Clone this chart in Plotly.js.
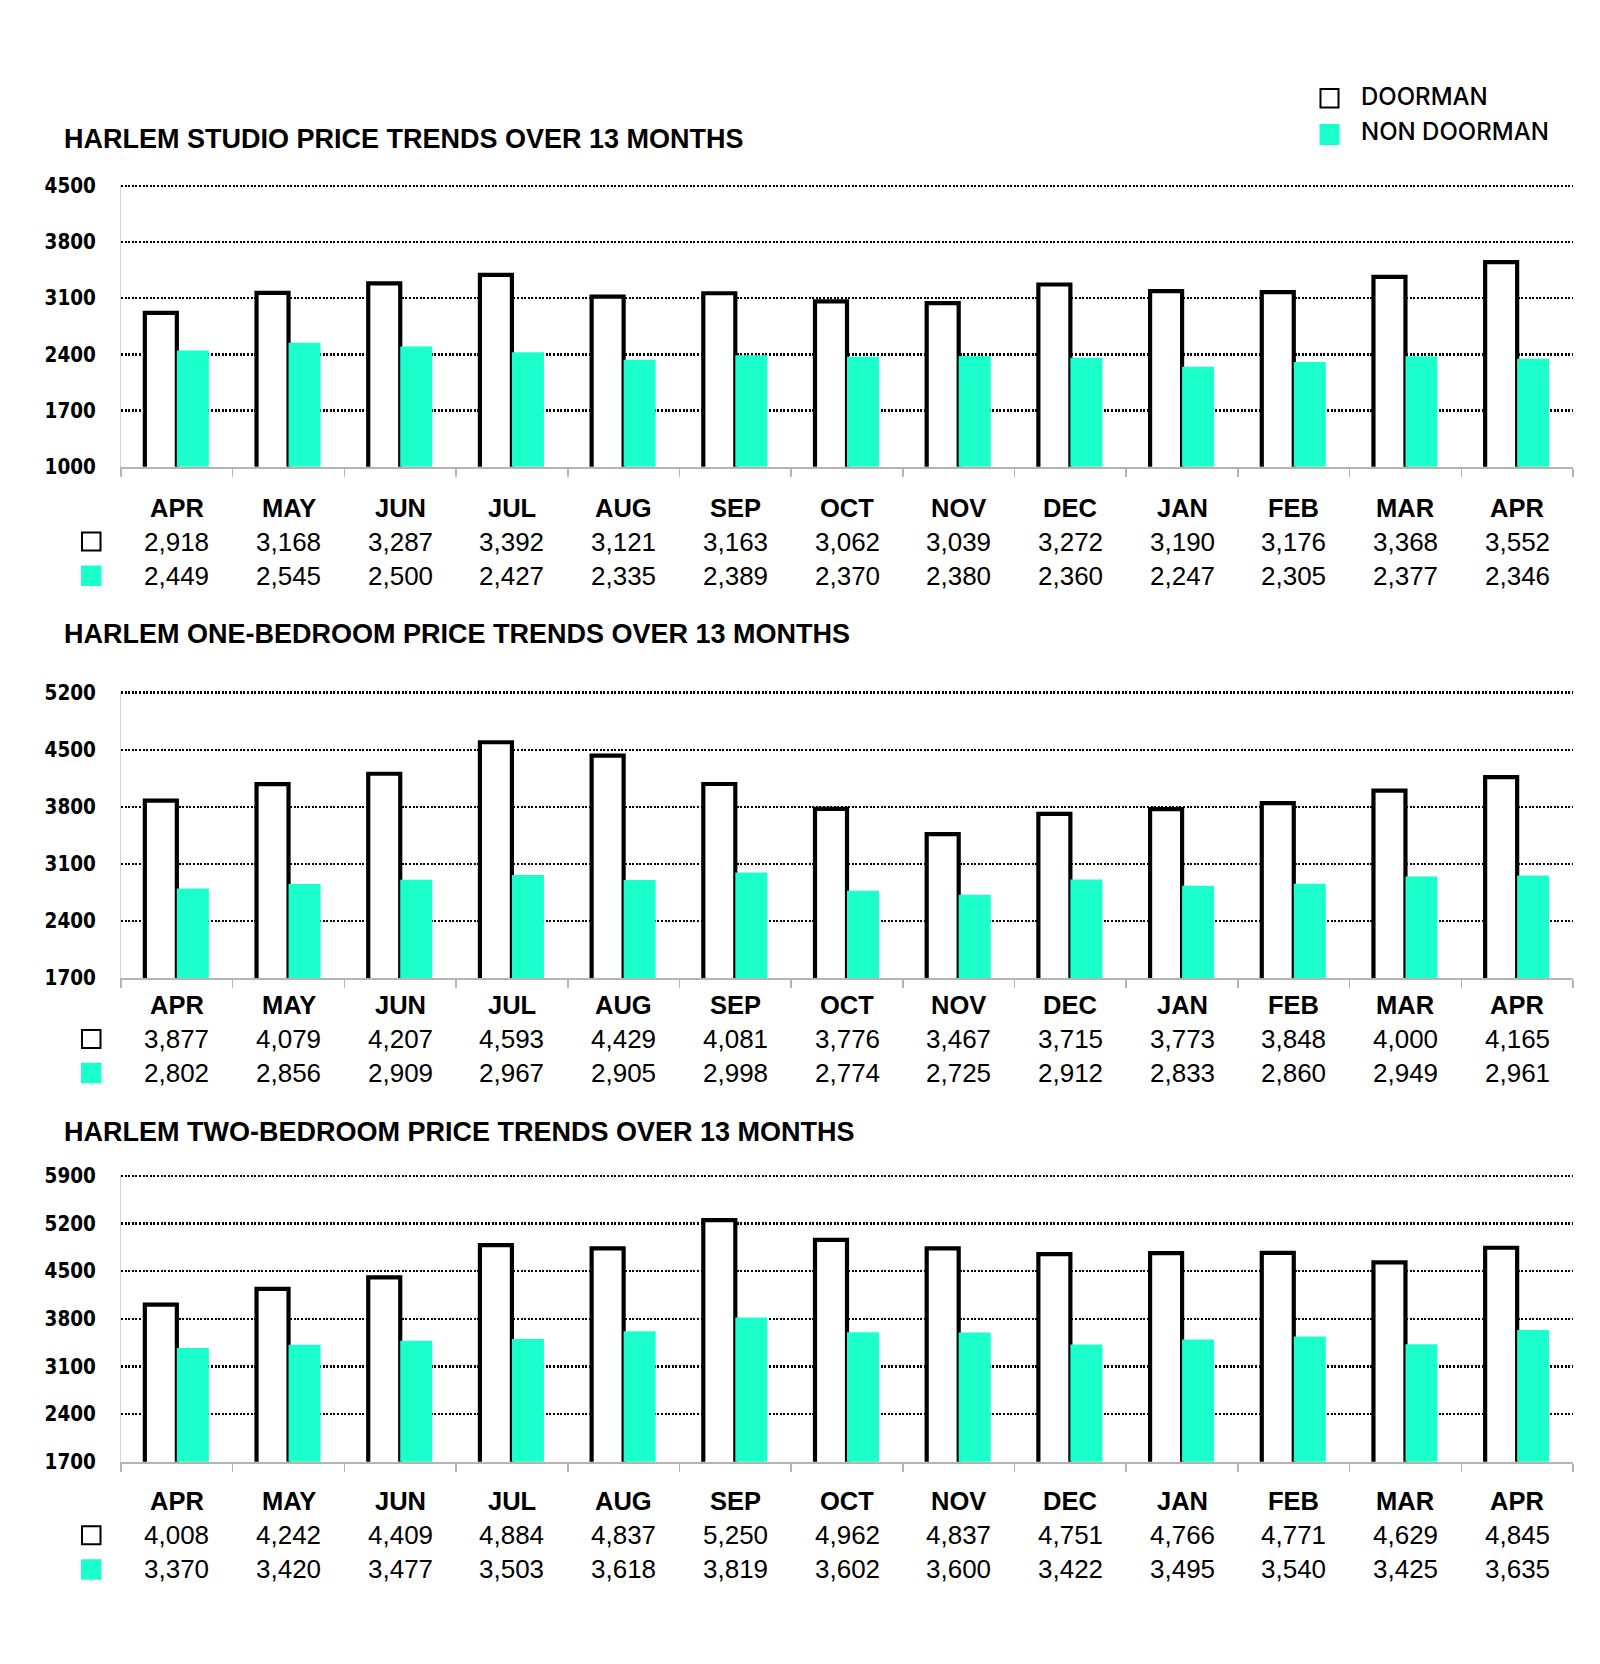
<!DOCTYPE html>
<html>
<head>
<meta charset="utf-8">
<script src="https://cdn.plot.ly/plotly-3.0.1.min.js"></script>
<style>html,body{margin:0;padding:0;background:#fff;}#chart{width:1600px;height:1664px;}</style>
</head>
<body>
<div id="chart"></div>
<script>
// ---------- DATA ----------
const months = ["APR","MAY","JUN","JUL","AUG","SEP","OCT","NOV","DEC","JAN","FEB","MAR","APR"];
const seriesNames = ["DOORMAN", "NON DOORMAN"];

const chartTitles = [
  "HARLEM STUDIO PRICE TRENDS OVER 13 MONTHS",
  "HARLEM ONE-BEDROOM PRICE TRENDS OVER 13 MONTHS",
  "HARLEM TWO-BEDROOM PRICE TRENDS OVER 13 MONTHS"
];

const studioDoorman    = [2918,3168,3287,3392,3121,3163,3062,3039,3272,3190,3176,3368,3552];
const studioNonDoorman = [2449,2545,2500,2427,2335,2389,2370,2380,2360,2247,2305,2377,2346];

const oneBedDoorman    = [3877,4079,4207,4593,4429,4081,3776,3467,3715,3773,3848,4000,4165];
const oneBedNonDoorman = [2802,2856,2909,2967,2905,2998,2774,2725,2912,2833,2860,2949,2961];

const twoBedDoorman    = [4008,4242,4409,4884,4837,5250,4962,4837,4751,4766,4771,4629,4845];
const twoBedNonDoorman = [3370,3420,3477,3503,3618,3819,3602,3600,3422,3495,3540,3425,3635];

const studioTicks = [1000,1700,2400,3100,3800,4500];
const oneBedTicks = [1700,2400,3100,3800,4500,5200];
const twoBedTicks = [1700,2400,3100,3800,4500,5200,5900];

// ---------- LAYOUT HELPERS ----------
const W = 1600, H = 1664;
const px = v => v / W;
const py = v => 1 - v / H;

const TEAL = "#1bffcc";
const FONT_ARIAL = "'Liberation Sans', Arial, Helvetica, sans-serif";

const charts = [
  {doorman: studioDoorman, non: studioNonDoorman, ticks: studioTicks, title: chartTitles[0],
   top: 186, bottom: 466.7, titleY: 139, rows: [508, 541.5, 575.5]},
  {doorman: oneBedDoorman, non: oneBedNonDoorman, ticks: oneBedTicks, title: chartTitles[1],
   top: 692.7, bottom: 978.3, titleY: 634, rows: [1005, 1039, 1072.8]},
  {doorman: twoBedDoorman, non: twoBedNonDoorman, ticks: twoBedTicks, title: chartTitles[2],
   top: 1176, bottom: 1461.7, titleY: 1132, rows: [1501.3, 1535.3, 1569.2]}
];

const plotLeft = 121, plotRight = 1573;
const xIdx = months.map((_, i) => i);
const boundaries = months.map((_, i) => i - 0.5).concat([months.length - 0.5]);

const fmt = v => v.toLocaleString("en-US");

const data = [];
const layout = {
  width: W, height: H,
  margin: {l: 0, r: 0, t: 0, b: 0},
  paper_bgcolor: "#fff", plot_bgcolor: "#fff",
  showlegend: false,
  barmode: "group", bargap: 0.427, bargroupgap: 0,
  annotations: [], shapes: []
};

charts.forEach((c, k) => {
  const sfx = k === 0 ? "" : String(k + 1);
  const xa = "x" + sfx, ya = "y" + sfx;
  const yMin = c.ticks[0], yMax = c.ticks[c.ticks.length - 1];
  const pad = (yMax - yMin) * 0.004;
  const pxPad = (c.bottom - c.top) * 0.004;
  data.push({
    type: "bar", name: seriesNames[0], x: xIdx, y: c.doorman, xaxis: xa, yaxis: ya,
    marker: {color: "#ffffff", line: {color: "#000000", width: 4.2}},
    hovertemplate: "%{y:,}<extra>" + seriesNames[0] + "</extra>"
  });
  data.push({
    type: "bar", name: seriesNames[1], x: xIdx, y: c.non, xaxis: xa, yaxis: ya,
    marker: {color: TEAL, line: {width: 0}},
    hovertemplate: "%{y:,}<extra>" + seriesNames[1] + "</extra>"
  });

  layout["xaxis" + sfx] = {
    domain: [px(plotLeft), px(plotRight)],
    anchor: ya,
    range: [-0.5, months.length - 0.5],
    showgrid: false, zeroline: false,
    showline: true, linecolor: "#b4b4b4", linewidth: 2,
    tickmode: "array", tickvals: boundaries,
    ticks: "outside", ticklen: 8, tickwidth: 1.5, tickcolor: "#b4b4b4",
    showticklabels: false, fixedrange: true
  };
  layout["yaxis" + sfx] = {
    domain: [py(c.bottom), py(c.top - pxPad)],
    anchor: xa,
    range: [yMin, yMax + pad],
    tickmode: "array", tickvals: c.ticks, ticktext: c.ticks.map(String),
    showgrid: true, gridcolor: "#000", gridwidth: 2.4, griddash: "2px,1.6px",
    zeroline: false,
    showline: true, linecolor: "#d4d4d4", linewidth: 1,
    ticks: "", ticklabelstandoff: 20,
    tickfont: {family: "'DejaVu Sans Condensed', 'DejaVu Sans', Verdana, sans-serif", size: 20.5, color: "#000", weight: "bold"},
    fixedrange: true
  };

  // chart title
  layout.annotations.push({
    xref: "paper", yref: "paper", x: px(62), y: py(c.titleY),
    xanchor: "left", yanchor: "middle", showarrow: false,
    text: "<b>" + c.title + "</b>",
    font: {family: FONT_ARIAL, size: 27, color: "#000"}
  });

  // table under each chart: month labels and values
  months.forEach((m, i) => {
    layout.annotations.push({
      xref: xa, yref: "paper", x: i, y: py(c.rows[0]),
      xanchor: "center", yanchor: "middle", showarrow: false,
      text: "<b>" + m + "</b>",
      font: {family: FONT_ARIAL, size: 25.5, color: "#000"}
    });
    layout.annotations.push({
      xref: xa, yref: "paper", x: i, y: py(c.rows[1]),
      xanchor: "center", yanchor: "middle", showarrow: false,
      text: fmt(c.doorman[i]),
      font: {family: FONT_ARIAL, size: 26, color: "#000"}
    });
    layout.annotations.push({
      xref: xa, yref: "paper", x: i, y: py(c.rows[2]),
      xanchor: "center", yanchor: "middle", showarrow: false,
      text: fmt(c.non[i]),
      font: {family: FONT_ARIAL, size: 26, color: "#000"}
    });
  });

  // row key symbols
  layout.shapes.push({
    type: "rect", xref: "paper", yref: "paper",
    x0: px(82), x1: px(100.5), y0: py(c.rows[1] + 9), y1: py(c.rows[1] - 9),
    line: {color: "#000", width: 2}, fillcolor: "#fff"
  });
  layout.shapes.push({
    type: "rect", xref: "paper", yref: "paper",
    x0: px(81), x1: px(101.5), y0: py(c.rows[2] + 10.5), y1: py(c.rows[2] - 10),
    line: {width: 0}, fillcolor: TEAL
  });
});

// top legend
layout.shapes.push({
  type: "rect", xref: "paper", yref: "paper",
  x0: px(1320.5), x1: px(1338.5), y0: py(107.5), y1: py(89),
  line: {color: "#000", width: 2}, fillcolor: "#fff"
});
layout.shapes.push({
  type: "rect", xref: "paper", yref: "paper",
  x0: px(1319.5), x1: px(1339.5), y0: py(145), y1: py(124),
  line: {width: 0}, fillcolor: TEAL
});
[[seriesNames[0], 96.5], [seriesNames[1], 131]].forEach(([t, y]) => {
  layout.annotations.push({
    xref: "paper", yref: "paper", x: px(1359), y: py(y),
    xanchor: "left", yanchor: "middle", showarrow: false,
    text: t,
    font: {family: "Inter, 'Open Sans', sans-serif", size: 24, color: "#000", weight: 500}
  });
});

Plotly.newPlot("chart", data, layout, {displayModeBar: false, staticPlot: true});
</script>
</body>
</html>
